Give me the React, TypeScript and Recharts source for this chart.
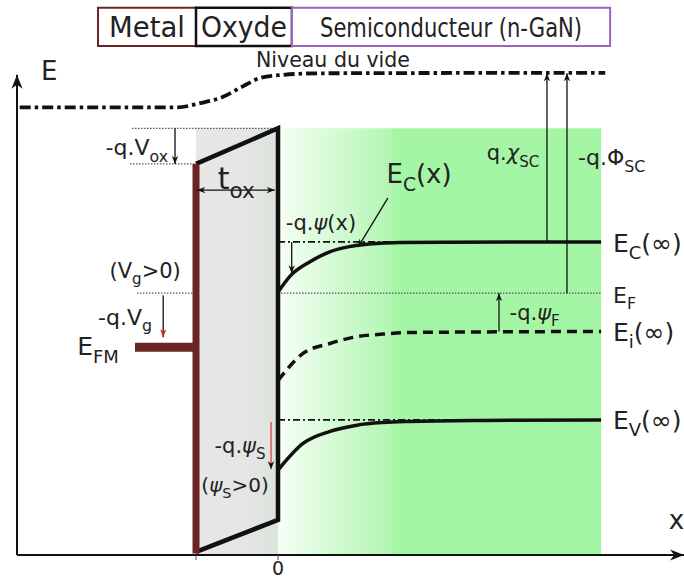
import {
  ComposedChart,
  Line,
  XAxis,
  YAxis,
  ReferenceArea,
  ReferenceLine,
  ReferenceDot,
} from 'recharts';

// axes: x in nm (0 = oxide / GaN interface), E in eV above the x axis
const X_MIN = -31.83;
const X_MAX = 49.51;
const E_MAX = 10.6;
const E_AXIS_TOP = 9.17;

// levels
const T_OX = -10;
const SC_END = 39.4;
const OX_TOP = 8.15;
const E_VAC = 9.2;
const E_C_INF = 5.98;
const E_F = 5.0;
const E_I_INF = 4.27;
const E_V_INF = 2.58;
const E_FM = 3.97;
const V_OX_LOW = 7.47;

// niveau du vide
const vacuumX = [-31.5, -12.3, -9.5, -6.7, -4.3, -2.2, 0.6, 4.8, 39.9];
const vacuumE = [8.55, 8.55, 8.63, 8.75, 8.95, 9.11, 9.17, 9.2, 9.21];

// barriere d'oxyde (haut metal -> haut interface -> bas interface -> bas metal)
const oxideX = [T_OX, 0, 0, T_OX];
const oxideE = [V_OX_LOW, OX_TOP, 0.67, 0.06];

// bandes dans le GaN
const ecX = [0, 1.5, 3.9, 6.3, 8.7, 11.1, 15, SC_END];
const ecE = [5.02, 5.33, 5.6, 5.79, 5.89, 5.94, 5.97, E_C_INF];
const eiX = [0, 3.05, 6.34, 9.63, 12.8, 16.1, 25, SC_END];
const eiE = [3.33, 3.85, 4.04, 4.17, 4.22, 4.25, 4.26, E_I_INF];
const evX = [0, 3.05, 6.34, 9.63, 12.8, 16.1, 25, SC_END];
const evE = [1.62, 2.13, 2.36, 2.48, 2.53, 2.55, 2.57, E_V_INF];

const pts = (xs: number[], es: number[]) => xs.map((x, i) => ({ x, e: es[i] }));

const FONT = '"DejaVu Sans", sans-serif';
const FONT_HEAD = '"DejaVu Sans Condensed", "DejaVu Sans", sans-serif';
const METAL = '#6b2424';

// texte avec indices : "E_{C}(x)" ; psi et chi en italique
function Tex({ viewBox, text, size = 18, anchor = 'middle', family = FONT, color = '#222', fit }: any) {
  const cx = viewBox.x + (viewBox.width || 0) / 2;
  const cy = viewBox.y + (viewBox.height || 0) / 2;
  if (fit) {
    return (
      <text x={cx - fit / 2} y={cy + size * 0.36} textAnchor="start" fontSize={size} fill={color} fontFamily={family}
        textLength={fit} lengthAdjust="spacingAndGlyphs">
        {text}
      </text>
    );
  }
  const parts = String(text).split(/(_\{[^}]*\}|[\u03c8\u03c7])/).filter(Boolean);
  const sh = size * 0.3;
  let down = false;
  return (
    <text x={cx} y={cy + size * 0.36} textAnchor={anchor} fontSize={size} fill={color} fontFamily={family}>
      {parts.map((p, i) => {
        if (p.startsWith('_{')) {
          const dy = down ? 0 : sh;
          down = true;
          return (
            <tspan key={i} dy={dy} fontSize={size * 0.72}>
              {p.slice(2, -1)}
            </tspan>
          );
        }
        const dy = down ? -sh : 0;
        down = false;
        const greek = p === '\u03c8' || p === '\u03c7';
        return (
          <tspan key={i} dy={dy} fontStyle={greek ? 'italic' : undefined}>
            {p}
          </tspan>
        );
      })}
    </text>
  );
}

const lab = (x: number, e: number, text: string, size = 21, anchor = 'middle') => (
  <ReferenceDot
    key={text + x}
    x={x}
    y={e}
    r={1}
    fill="none"
    stroke="none"
    ifOverflow="visible"
    label={<Tex text={text} size={size} anchor={anchor} />}
  />
);

const arrow = (x1: number, e1: number, x2: number, e2: number, color = '#111', head = 'url(#ah)', extra: any = {}) => (
  <ReferenceLine
    key={`${x1}-${e1}-${x2}-${e2}`}
    segment={[{ x: x1, y: e1 }, { x: x2, y: e2 }]}
    stroke={color}
    strokeWidth={1.3}
    markerEnd={head}
    ifOverflow="visible"
    {...extra}
  />
);

const dotted = (x1: number, x2: number, e: number) => (
  <ReferenceLine
    key={`d${x1}-${e}`}
    segment={[{ x: x1, y: e }, { x: x2, y: e }]}
    stroke="#555"
    strokeWidth={1.2}
    strokeDasharray="1.5 1.5"
    ifOverflow="visible"
  />
);

const dashDot = (e: number) => (
  <ReferenceLine
    key={`dd${e}`}
    segment={[{ x: 0, y: e }, { x: SC_END, y: e }]}
    stroke="#111"
    strokeWidth={1.6}
    strokeDasharray="7 3 2 3"
    ifOverflow="visible"
  />
);

export default function App() {
  return (
    <div style={{ position: 'absolute', left: 0, top: 0, width: 684, height: 579, background: '#fff' }}>
      <ComposedChart width={684} height={579} margin={{ top: 0, right: 0, bottom: 0, left: 17 }}>
        <defs>
          <marker id="ah" viewBox="0 0 10 10" refX="10" refY="5" markerWidth="8" markerHeight="8" markerUnits="userSpaceOnUse" orient="auto-start-reverse">
            <path d="M0,1 L10,5 L0,9 L3,5 z" fill="#111" />
          </marker>
          <marker id="ahr" viewBox="0 0 10 10" refX="10" refY="5" markerWidth="8" markerHeight="8" markerUnits="userSpaceOnUse" orient="auto-start-reverse">
            <path d="M0,1 L10,5 L0,9 L3,5 z" fill="#d42020" />
          </marker>
          <marker id="axArrow" viewBox="0 0 10 10" refX="10" refY="5" markerWidth="14" markerHeight="14" markerUnits="userSpaceOnUse" orient="auto-start-reverse">
            <path d="M0,1 L10,5 L0,9 L3,5 z" fill="#111" />
          </marker>
          <linearGradient id="gGreen" x1="0" y1="0" x2="1" y2="0">
            <stop offset="0" stopColor="#f6fff6" />
            <stop offset="0.35" stopColor="#b2f6b2" />
            <stop offset="0.36" stopColor="#a4f5a4" />
            <stop offset="1" stopColor="#a4f5a4" />
          </linearGradient>
          <linearGradient id="gGrey" x1="0" y1="0" x2="1" y2="0">
            <stop offset="0" stopColor="#e7e7e7" />
            <stop offset="0.65" stopColor="#e5e5e5" />
            <stop offset="1" stopColor="#dbe4db" />
          </linearGradient>
        </defs>

        <XAxis
          type="number"
          dataKey="x"
          domain={[X_MIN, X_MAX]}
          allowDataOverflow
          ticks={[T_OX, 0]}
          interval={0}
          tickFormatter={(v: number) => (v === 0 ? '0' : '')}
          height={24}
          tickSize={5}
          axisLine={{ stroke: '#111', strokeWidth: 2, markerEnd: 'url(#axArrow)' }}
          tickLine={{ stroke: '#555' }}
          tick={{ fontSize: 19, fill: '#222', fontFamily: FONT }}
        />
        <YAxis type="number" dataKey="e" domain={[0, E_MAX]} allowDataOverflow hide />

        {/* fonds oxyde / semiconducteur */}
        <ReferenceArea x1={T_OX} x2={0} y1={0} y2={OX_TOP} fill="url(#gGrey)" fillOpacity={1} stroke="none" ifOverflow="visible" />
        <ReferenceArea x1={0} x2={SC_END} y1={0} y2={OX_TOP} fill="url(#gGreen)" fillOpacity={1} stroke="none" ifOverflow="visible" />

        {/* bandeau du haut */}
        <ReferenceArea x1={-21.95} x2={T_OX} y1={9.72} y2={10.45} fill="#fff" fillOpacity={1} stroke={METAL} strokeWidth={2} ifOverflow="visible"
          label={<Tex text="Metal" size={28} family={FONT_HEAD} fit={76} />} />
        <ReferenceArea x1={T_OX} x2={1.7} y1={9.72} y2={10.45} fill="#fff" fillOpacity={1} stroke="#111" strokeWidth={2.5} ifOverflow="visible"
          label={<Tex text="Oxyde" size={28} family={FONT_HEAD} fit={86} />} />
        <ReferenceArea x1={1.7} x2={40.5} y1={9.72} y2={10.45} fill="#fff" fillOpacity={1} stroke="#9d62c4" strokeWidth={2} ifOverflow="visible"
          label={<Tex text="Semiconducteur (n-GaN)" size={27} family={FONT_HEAD} fit={262} />} />

        {/* axe E */}
        <ReferenceLine segment={[{ x: X_MIN, y: 0 }, { x: X_MIN, y: E_AXIS_TOP }]} stroke="#111" strokeWidth={2} markerEnd="url(#axArrow)" ifOverflow="visible" />

        {/* lignes de reference */}
        {dotted(-17.8, -0.1, OX_TOP)}
        {dotted(-18.05, T_OX, V_OX_LOW)}
        {dotted(-17.2, T_OX, E_F)}
        {dotted(0, SC_END, E_F)}
        {dashDot(E_C_INF)}
        {dashDot(E_V_INF)}

        <Line data={pts(vacuumX, vacuumE)} dataKey="e" type="monotone" stroke="#111" strokeWidth={3.8} strokeDasharray="11 4 3.5 4" dot={false} isAnimationActive={false} />
        <Line data={pts(oxideX, oxideE)} dataKey="e" type="linear" stroke="#111" strokeWidth={4.5} dot={false} isAnimationActive={false} />
        <Line data={pts([T_OX, T_OX], [V_OX_LOW, 0.03])} dataKey="e" type="linear" stroke={METAL} strokeWidth={7} dot={false} isAnimationActive={false} />
        <Line data={pts([-17.44, T_OX], [E_FM, E_FM])} dataKey="e" type="linear" stroke={METAL} strokeWidth={9} dot={false} isAnimationActive={false} />
        <Line data={pts(ecX, ecE)} dataKey="e" type="monotone" stroke="#111" strokeWidth={3.5} dot={false} isAnimationActive={false} />
        <Line data={pts(eiX, eiE)} dataKey="e" type="monotone" stroke="#111" strokeWidth={3.5} strokeDasharray="10 6" dot={false} isAnimationActive={false} />
        <Line data={pts(evX, evE)} dataKey="e" type="monotone" stroke="#111" strokeWidth={3.5} dot={false} isAnimationActive={false} />

        {/* fleches */}
        {arrow(-12.56, OX_TOP, -12.56, V_OX_LOW)}
        {arrow(-9.85, 6.97, -0.4, 6.97, '#111', 'url(#ah)', { markerStart: 'url(#ah)' })}
        {arrow(-14.0, 4.96, -14.0, 4.16, '#111', 'url(#ahr)')}
        {arrow(1.67, E_C_INF, 1.67, 5.38)}
        {arrow(13.41, 6.82, 9.76, 5.88)}
        {arrow(32.8, E_C_INF, 32.8, E_VAC)}
        {arrow(35.24, E_F, 35.24, E_VAC)}
        {arrow(26.95, E_I_INF, 26.95, E_F)}
        {arrow(-0.85, 2.54, -0.85, 1.64, '#e04040', 'url(#ah)')}

        {/* textes */}
        {lab(6.7, 9.46, 'Niveau du vide', 20.5)}
        {lab(-27.9, 9.25, 'E', 26)}
        {lab(48.6, 0.67, 'x', 26)}
        {lab(-13.4, 7.79, '-q.V_{ox}', 22, 'end')}
        {lab(-5.1, 7.2, 't_{ox}', 30)}
        {lab(-16.2, 5.44, '(V_{g}>0)', 21)}
        {lab(-18.66, 4.55, '-q.V_{g}', 22)}
        {lab(-21.95, 3.99, 'E_{FM}', 25)}
        {lab(-4.63, 2.1, '-q.\u03c8_{S}', 21)}
        {lab(-5.24, 1.34, '(\u03c8_{S}>0)', 20)}
        {lab(17.2, 7.28, 'E_{C}(x)', 26)}
        {lab(5.24, 6.36, '-q.\u03c8(x)', 21)}
        {lab(28.66, 7.68, 'q.\u03c7_{SC}', 21)}
        {lab(40.7, 7.6, '-q.\u03a6_{SC}', 22)}
        {lab(40.85, 5.96, 'E_{C}(\u221e)', 25, 'start')}
        {lab(40.85, 4.97, 'E_{F}', 22, 'start')}
        {lab(31.3, 4.64, '-q.\u03c8_{F}', 21)}
        {lab(40.85, 4.26, 'E_{i}(\u221e)', 25, 'start')}
        {lab(40.85, 2.58, 'E_{V}(\u221e)', 25, 'start')}
      </ComposedChart>
    </div>
  );
}
